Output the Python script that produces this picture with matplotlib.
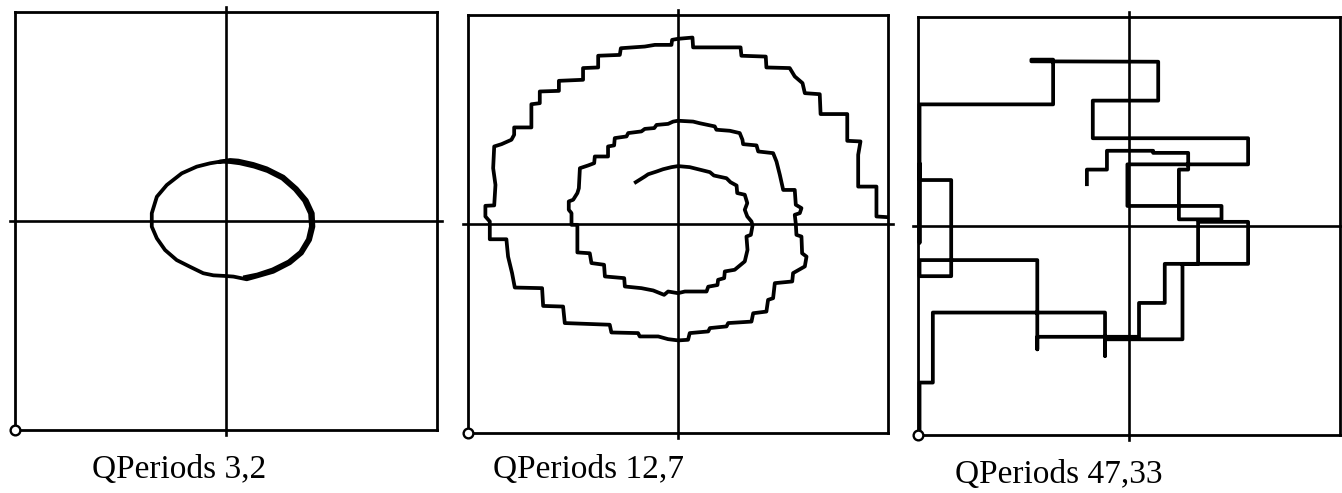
import matplotlib
matplotlib.use("Agg")
import matplotlib.pyplot as plt

# Panel captions
titles = ["QPeriods 3,2", "QPeriods 12,7", "QPeriods 47,33"]

# Panel 1: closed orbit (two passes), axes span -100..100
orbit_x = [-2.8, 1.9, 5.8, 12.9, 19.3, 27.2, 33.5, 38.2, 41.1, 41.4, 39.8, 35.9,
           30.3, 22.4, 14.5, 9.8, 3.5, -0.5, -6.0, -10.8, -17.1, -23.4, -28.9,
           -32.8, -35.2, -35.2, -32.8, -28.1, -21.0, -13.9, -7.6, -2.8,
           1.9, 6.5, 13.3, 19.6, 26.6, 32.6, 37.0, 39.8, 40.2, 38.8, 35.2,
           29.6, 22.0, 14.8, 9.0]
orbit_y = [28.4, 29.2, 28.9, 27.3, 25.2, 21.2, 15.6, 10.0, 3.7, -2.7, -9.1, -15.5,
           -20.2, -24.3, -26.6, -27.9, -26.6, -26.3, -26.0, -25.0, -21.9, -18.7,
           -13.9, -8.3, -2.7, 3.7, 11.6, 17.2, 22.8, 26.0, 27.6, 28.4,
           28.2, 27.6, 26.0, 23.9, 20.3, 15.0, 9.6, 3.5, -2.6, -8.7, -14.8,
           -19.4, -23.2, -25.6, -26.8]

# Panel 2: stepped outward spiral
spiral_x = [-20.1, -15.8, -14.2, -10.2, -7.1, -3.1, 0.0, 5.6, 15.2, 17.1, 23.1, 25.0,
            27.9, 28.2, 31.8, 33.0, 31.8, 33.0, 35.0, 35.5,
            34.7, 32.6, 33.1, 31.8, 27.0, 22.3, 22.0, 19.1, 18.8, 14.4, 13.6, 3.3,
            0.0, -4.7, -6.6, -11.8, -17.4, -25.3, -25.6, -34.8, -35.2, -41.2, -42.0,
            -47.9, -47.9,
            -50.7, -50.7, -52.0, -52.0, -49.9, -47.9, -47.2, -46.7, -42.8, -39.9, -39.6,
            -33.3, -33.3, -30.4, -30.1, -24.5, -23.7, -17.4, -15.8, -11.3, -10.2,
            -4.7, -2.3, 0.0,
            7.2, 10.4, 17.5, 18.3, 24.7, 29.4, 30.7, 31.0, 37.4, 38.2, 45.3, 46.9,
            48.5, 50.1, 55.6, 56.1, 58.8, 58.0, 55.6, 56.1,
            56.4, 58.8, 59.1, 61.2, 60.4, 54.8, 54.4, 46.1, 45.3, 42.9, 42.1, 35.8,
            35.0, 23.9, 23.1, 15.2, 14.4, 5.6, 4.8, 0.1, -4.7, -9.4, -18.2, -19.0,
            -31.7, -32.5, -53.9, -54.7, -64.2, -64.7, -77.7, -79.0, -80.9, -81.7,
            -89.6, -89.6,
            -89.6, -91.7, -91.7, -87.5, -86.9, -88.0, -87.5, -84.0, -79.3, -78.0,
            -78.0, -69.8, -69.8, -65.8, -65.8, -56.7, -56.7, -45.2, -45.2, -38.0,
            -38.0, -27.7, -27.2, -15.8, -11.0, -3.1, -2.8, 0.0,
            6.9, 7.2, 29.8, 30.2, 41.8, 42.1, 53.2, 55.6, 59.3, 60.4, 67.5, 67.9,
            80.6, 80.6, 86.9, 85.8, 85.8, 94.5, 94.5, 99.3]
spiral_y = [20.0, 22.7, 23.8, 25.1, 26.2, 27.2, 27.7, 27.2, 24.8, 23.2, 21.9, 20.0,
            18.4, 14.8, 14.0, 10.0, 6.8, 3.6, 1.2, -0.7,
            -5.2, -6.0, -12.4, -17.9, -21.9, -22.7, -25.9, -26.7, -29.2, -30.0, -32.3,
            -32.3, -33.1, -32.3, -33.9, -31.8, -30.7, -29.9, -25.9, -25.1, -19.5,
            -18.7, -14.0, -13.6, -0.4,
            -0.4, 5.2, 6.8, 10.8, 11.6, 14.8, 17.1, 26.7, 28.0, 29.1, 32.3,
            32.3, 37.1, 37.6, 41.1, 41.9, 43.5, 44.3, 45.5, 45.9, 47.4,
            47.9, 49.0, 49.4,
            49.0, 48.2, 46.7, 45.1, 44.6, 43.5, 40.3, 38.2, 37.6, 34.7, 33.9, 29.9,
            23.5, 16.3, 16.3, 9.2, 7.6, 5.2, 4.4, 0.1,
            -5.2, -6.0, -14.0, -15.6, -20.3, -23.5, -27.5, -28.3, -35.5, -36.3, -41.9,
            -42.7, -46.7, -47.4, -49.0, -49.8, -51.4, -52.2, -55.4, -55.7, -55.1,
            -53.8, -53.8, -52.2, -51.9, -48.2, -47.4, -39.5, -39.2, -30.7, -30.4,
            -23.5, -15.6, -7.3, -7.3, -1.2,
            1.2, 3.6, 8.7, 8.9, 18.7, 26.7, 37.1, 38.2, 40.3, 42.7,
            46.2, 46.2, 57.3, 57.8, 63.4, 63.7, 68.5, 69.0, 74.6, 74.9,
            80.5, 80.9, 84.1, 84.9, 85.7, 85.7, 88.1, 88.6,
            89.2, 84.5, 84.5, 80.5, 80.1, 74.9, 74.6, 70.6, 67.4, 62.6, 62.1, 52.6,
            52.6, 39.8, 39.5, 33.1, 17.9, 17.9, 3.6, 3.3]

# Panel 3: rectilinear random walk
walk_x = [-20.0, -20.0, -10.5, -10.5, 11.4, 11.4, 28.0, 28.0, 23.6, 23.6, 43.8, 43.8,
          -0.8, -0.8, 56.4, 56.4, -17.2, -17.2, 13.8, 13.8, -46.3, -46.3, -36.0,
          -36.0, -99.3, -99.3, -99.3, -99.3, -84.3, -84.3, -99.3, -99.3, -43.5,
          -43.5, -43.5, 4.7, 4.7, 16.9, 16.9, 32.7, 32.7, 56.4, 56.4, 25.3, 25.3,
          -11.4, -11.4, -11.4, -93.0, -93.0, -99.3, -99.3]
walk_y = [20.0, 27.0, 27.0, 36.0, 36.0, 35.0, 35.0, 27.0, 27.0, 3.2, 3.2, 9.6,
          9.6, 29.5, 29.5, 42.0, 42.0, 60.0, 60.0, 78.6, 78.8, 79.6, 79.6,
          58.2, 58.2, -8.0, 30.0, 22.0, 22.0, -24.0, -24.0, -16.3, -16.3,
          -59.0, -53.0, -53.0, -36.8, -36.8, -18.1, -18.1, 2.0, 2.0, -18.1, -18.1,
          -54.2, -54.2, -62.2, -41.4, -41.4, -74.9, -74.9, -100.0]

fig = plt.figure(figsize=(13.42, 4.93), dpi=100)
fig.patch.set_facecolor("white")

boxes = [(0.0112, 0.1278, 0.3145, 0.8479),
         (0.3487, 0.1217, 0.3130, 0.8479),
         (0.6841, 0.1176, 0.3145, 0.8479)]
caption_pos = [(0.0686, 0.030), (0.3674, 0.030), (0.7116, 0.021)]
series = [(orbit_x, orbit_y), (spiral_x, spiral_y), (walk_x, walk_y)]

for box, (xs, ys), title, (tx, ty) in zip(boxes, series, titles, caption_pos):
    ax = fig.add_axes(box)
    ax.set_xlim(-100, 100)
    ax.set_ylim(-100, 100)
    ax.set_xticks([])
    ax.set_yticks([])
    for sp in ax.spines.values():
        sp.set_linewidth(2.0)
        sp.set_color("black")
    # crosshair through the origin, slightly overshooting the frame
    ax.plot([-102.5, 102.5], [0, 0], color="black", lw=1.9, clip_on=False)
    ax.plot([0, 0], [-102.5, 102.5], color="black", lw=1.9, clip_on=False)
    ax.plot(xs, ys, color="black", lw=2.7, clip_on=False, zorder=3)
    ax.plot([-100], [-100], marker="o", ms=7, mfc="white", mec="black",
            mew=1.7, clip_on=False, zorder=4)
    fig.text(tx, ty, title, fontsize=24, family=["Liberation Serif"],
             va="baseline", ha="left")

fig.savefig("out.png", dpi=100, facecolor="white")
